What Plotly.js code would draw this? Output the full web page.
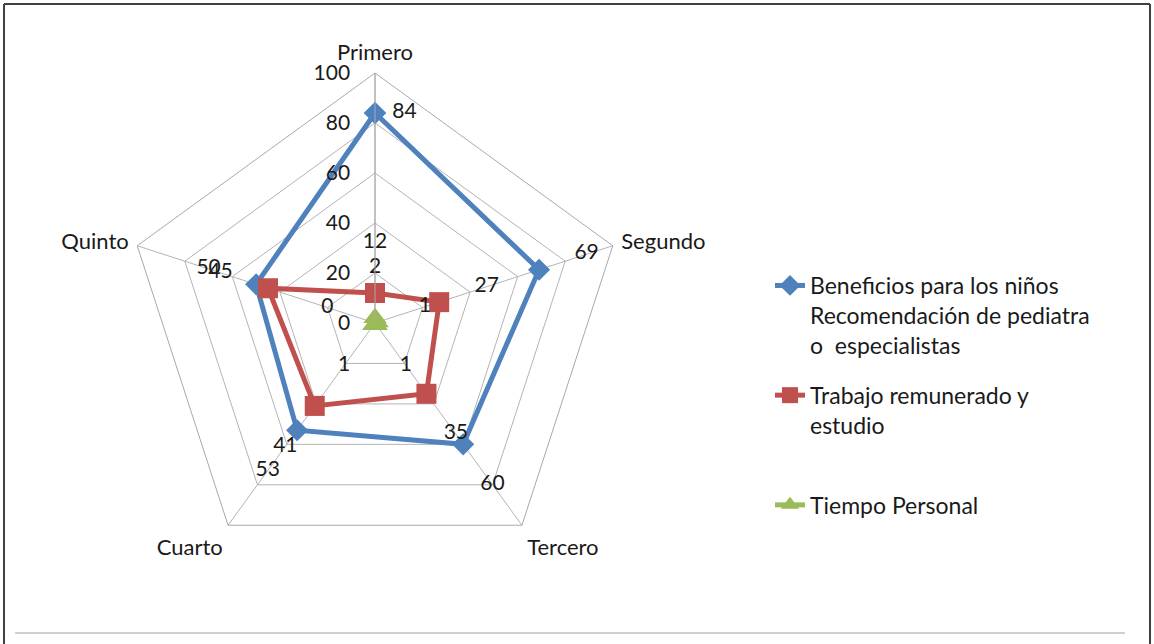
<!DOCTYPE html>
<html><head><meta charset="utf-8">
<script src="https://cdn.plot.ly/plotly-3.0.1.min.js"></script>
<style>html,body{margin:0;padding:0;background:#fff}#chart{width:1154px;height:644px}</style>
</head><body><div id="chart"></div>
<script>
// ---- data ----
const categories = ['Primero', 'Segundo', 'Tercero', 'Cuarto', 'Quinto'];
const seriesNames = [
  'Beneficios para los niños<br>Recomendación de pediatra<br>o  especialistas',
  'Trabajo remunerado y<br>estudio<br> ',
  'Tiempo Personal'
];
const beneficios = [84, 69, 60, 53, 50];
const trabajo = [12, 27, 35, 41, 45];
const tiempo = [2, 1, 1, 1, 0];
const radialTicks = [0, 20, 40, 60, 80, 100];

// ---- style ----
const FONT = 'Lato, "Open Sans", sans-serif';
const TXT = '#1a1a1a';
const colors = ['#4F81BD', '#C0504D', '#9BBB59'];
const symbols = ['diamond', 'square', 'triangle-up'];
const markerSizes = [17, 20, 20];
const LABEL_OFFSET = 20;
const RMAX = 100;

const series = [beneficios, trabajo, tiempo];
const closeLoop = a => a.concat([a[0]]);

const traces = [];
series.forEach((vals, i) => {
  traces.push({
    type: 'scatterpolar',
    r: closeLoop(vals),
    theta: closeLoop(categories),
    mode: 'lines+markers',
    name: seriesNames[i],
    legendgroup: 'g' + i,
    line: {color: colors[i], width: 5},
    marker: {symbol: symbols[i], size: markerSizes[i], color: colors[i]},
    cliponaxis: false,
    hoverinfo: 'skip'
  });
});
// data labels (placed outward from each point)
series.forEach((vals, i) => {
  traces.push({
    type: 'scatterpolar',
    r: vals.map(v => (v + LABEL_OFFSET > RMAX ? v : v + LABEL_OFFSET)),
    theta: categories,
    mode: 'markers+text',
    marker: {size: 26, opacity: 0},
    text: vals.map(String),
    textposition: vals.map(v => (v + LABEL_OFFSET > RMAX ? 'middle right' : 'middle center')),
    textfont: {family: FONT, size: 21, color: TXT},
    showlegend: false,
    cliponaxis: false,
    hoverinfo: 'skip'
  });
});

const W = 1154, H = 644;
const cx = 375, cy = 323, R = 250;

const layout = {
  width: W, height: H,
  margin: {l: 0, r: 0, t: 0, b: 0},
  paper_bgcolor: '#ffffff',
  font: {family: FONT, size: 22, color: TXT},
  showlegend: true,
  legend: {
    x: 770 / W, y: 1 - 264 / H, xanchor: 'left', yanchor: 'top',
    font: {family: FONT, size: 23, color: TXT},
    tracegroupgap: 17, valign: 'top', bgcolor: 'rgba(0,0,0,0)'
  },
  polar: {
    domain: {x: [(cx - R) / W, (cx + R) / W], y: [(H - cy - R) / H, (H - cy + R) / H]},
    bgcolor: 'rgba(0,0,0,0)',
    gridshape: 'linear',
    radialaxis: {
      range: [0, RMAX], tickvals: radialTicks, ticktext: radialTicks.map(String),
      angle: 90, side: 'counterclockwise', tickangle: 90,
      showline: true, linecolor: '#A9A9A9', linewidth: 1,
      gridcolor: '#B4B4B4', gridwidth: 1,
      ticks: 'outside', ticklen: 17, tickcolor: 'rgba(0,0,0,0)',
      tickfont: {family: FONT, size: 21, color: TXT}
    },
    angularaxis: {
      type: 'category', categoryarray: categories,
      rotation: 90, direction: 'clockwise',
      showline: true, linecolor: '#A9A9A9', linewidth: 1,
      gridcolor: '#B4B4B4', gridwidth: 1,
      ticks: 'outside', ticklen: 4, tickcolor: 'rgba(0,0,0,0)',
      tickfont: {family: FONT, size: 22, color: TXT}
    }
  },
  shapes: [
    {type: 'line', xref: 'paper', yref: 'paper', x0: 4 / W, x1: 4 / W, y0: 0, y1: 1 - 4 / H, line: {color: '#404040', width: 2}},
    {type: 'line', xref: 'paper', yref: 'paper', x0: 4 / W, x1: 1150 / W, y0: 1 - 4 / H, y1: 1 - 4 / H, line: {color: '#404040', width: 2}},
    {type: 'line', xref: 'paper', yref: 'paper', x0: 1150 / W, x1: 1150 / W, y0: 0, y1: 1 - 4 / H, line: {color: '#404040', width: 2}},
    {type: 'line', xref: 'paper', yref: 'paper', x0: 15 / W, x1: 1125 / W, y0: 1 - 633 / H, y1: 1 - 633 / H, line: {color: '#C0C0C0', width: 1.5}}
  ]
};

Plotly.newPlot('chart', traces, layout, {displayModeBar: false, staticPlot: true});
</script></body></html>
